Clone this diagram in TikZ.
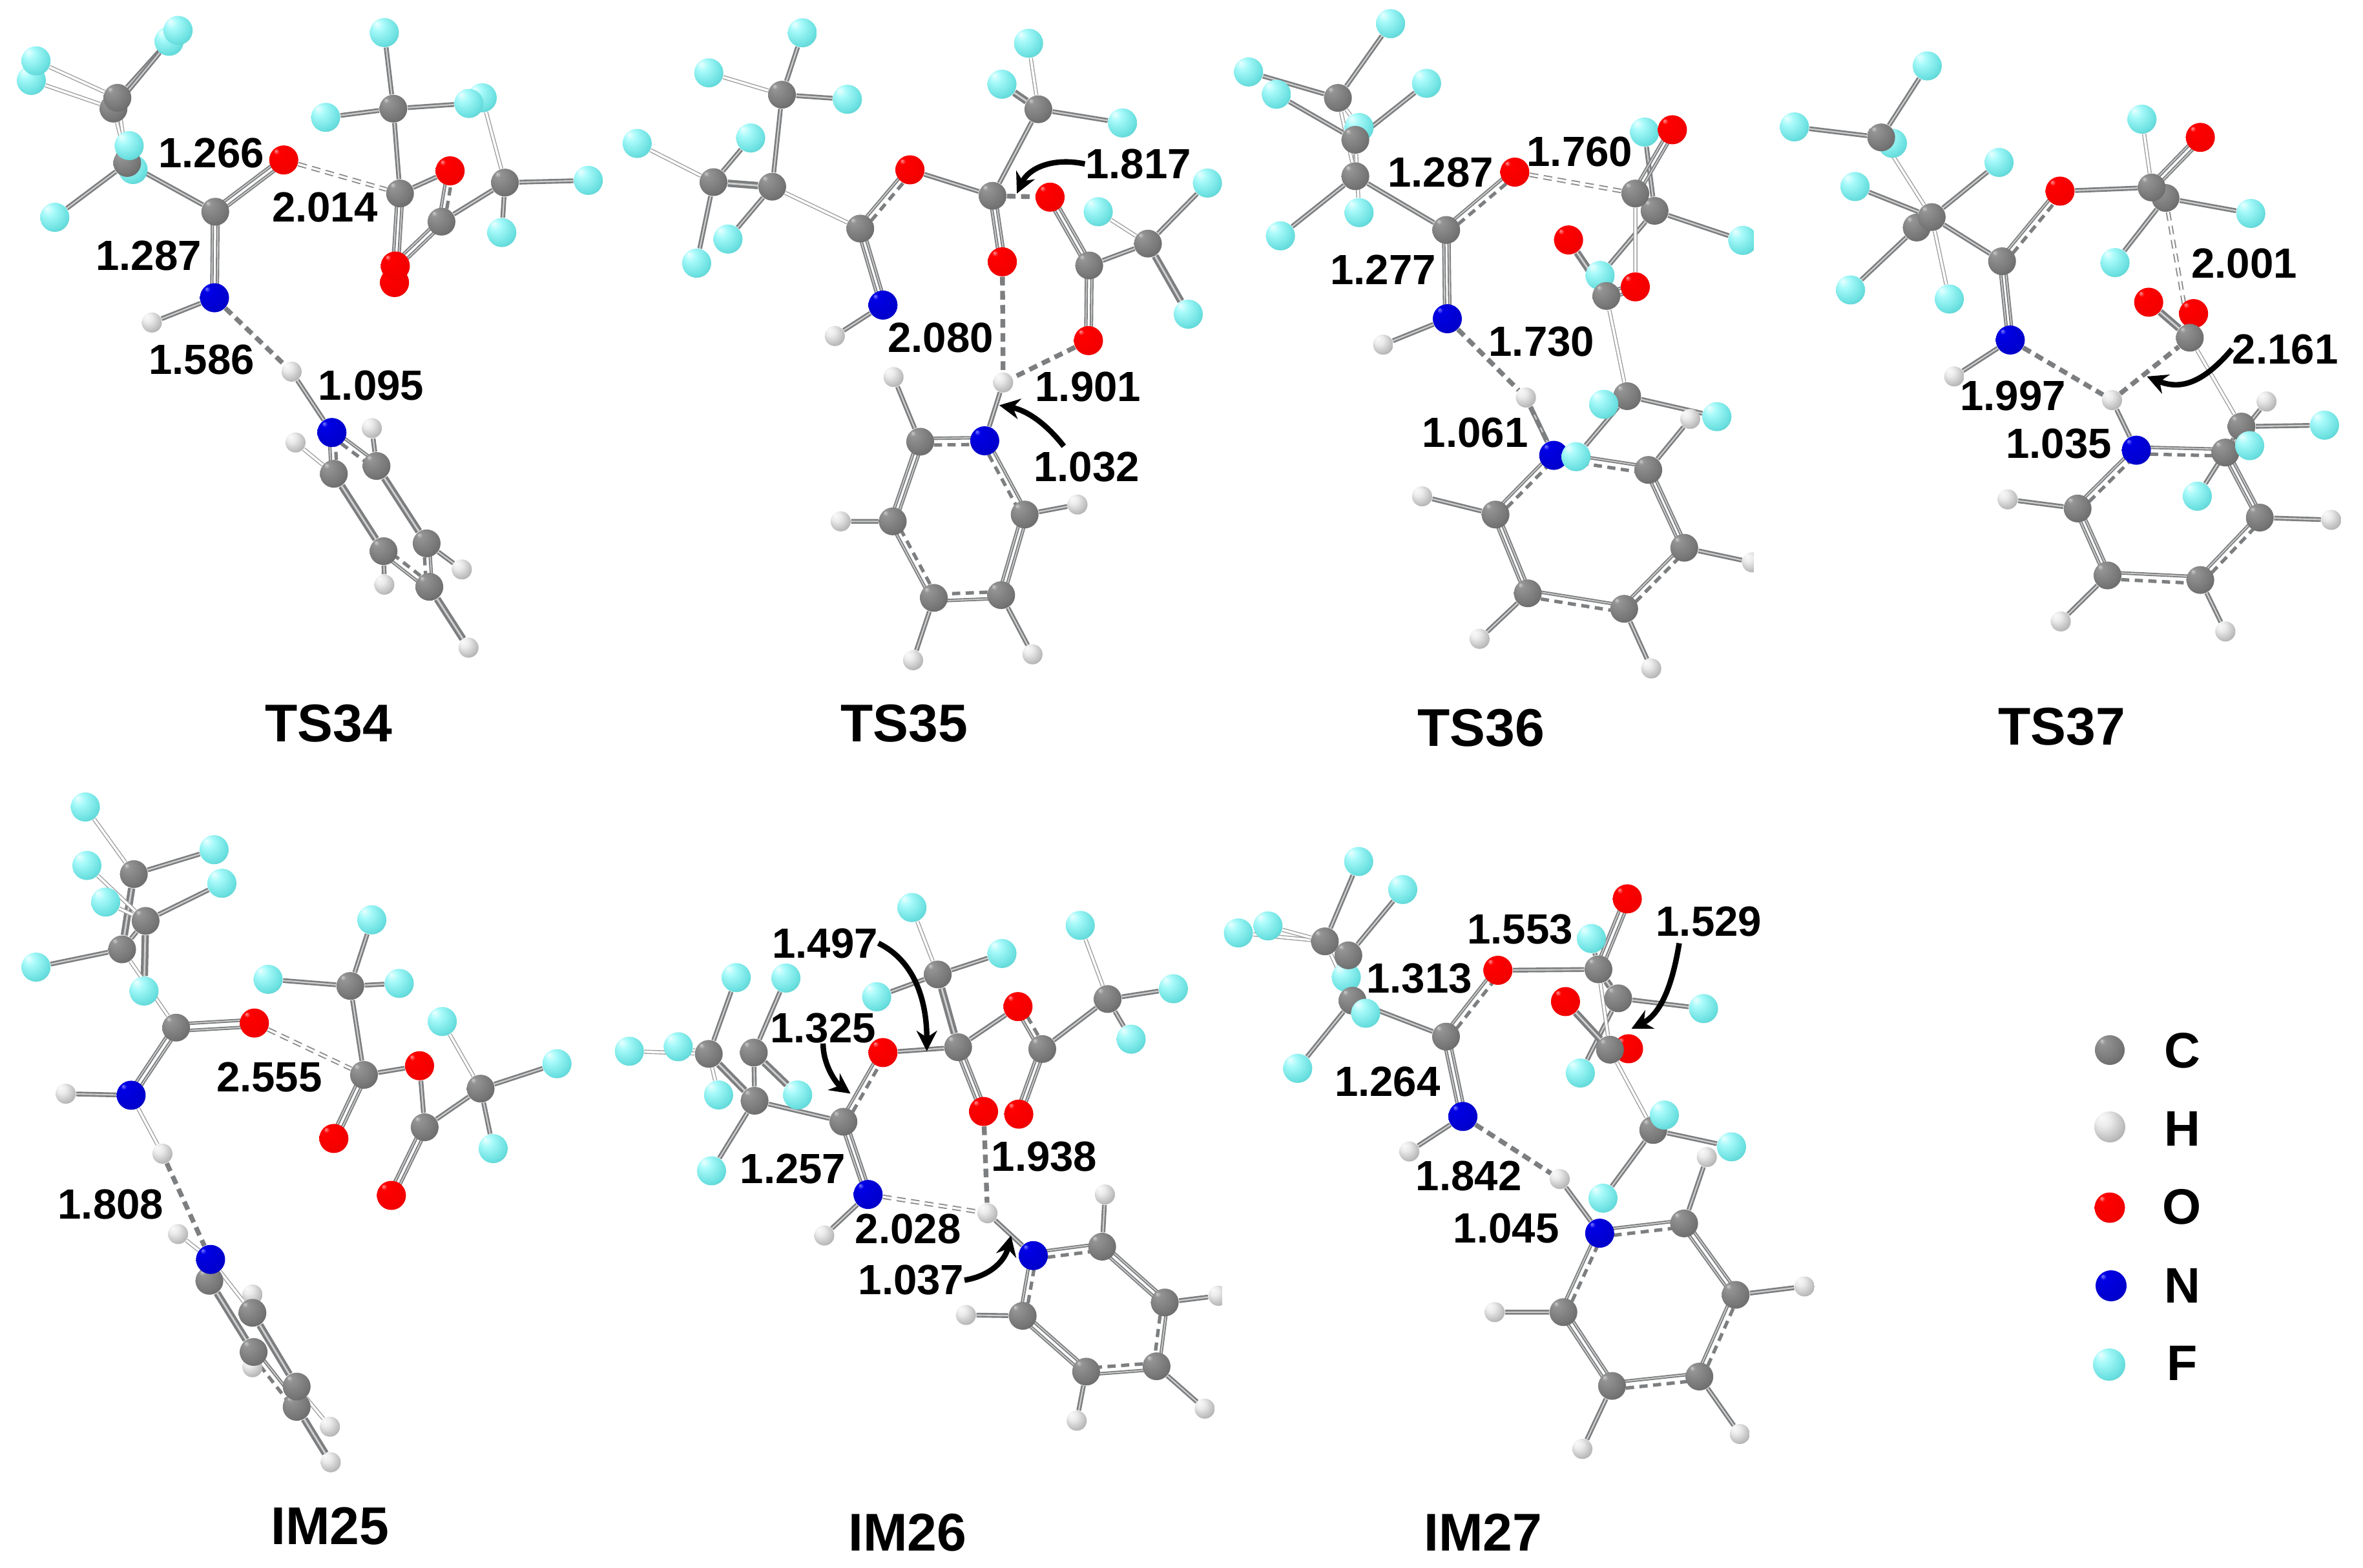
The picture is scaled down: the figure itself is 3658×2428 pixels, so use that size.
\documentclass[tikz,border=0pt]{standalone}
\usepackage{fontspec}
\setmainfont{Liberation Sans}
\usetikzlibrary{calc,arrows.meta}
\pgfdeclarelayer{bonds}
\pgfsetlayers{bonds,main}
\pgfdeclareradialshading{atomC}{\pgfqpoint{-14bp}{16bp}}{rgb(0bp)=(.80,.80,.80);rgb(5bp)=(.58,.58,.58);rgb(25bp)=(.47,.47,.47);rgb(42bp)=(.36,.36,.36);rgb(50bp)=(.25,.25,.25)}
\pgfdeclareradialshading{atomH}{\pgfqpoint{-14bp}{16bp}}{rgb(0bp)=(.98,.98,.98);rgb(12bp)=(.92,.92,.92);rgb(30bp)=(.72,.72,.72);rgb(42bp)=(.55,.55,.55);rgb(50bp)=(.38,.38,.38)}
\pgfdeclareradialshading{atomO}{\pgfqpoint{-14bp}{16bp}}{rgb(0bp)=(1,.6,.6);rgb(5bp)=(1,0,0);rgb(30bp)=(.95,0,0);rgb(42bp)=(.72,0,0);rgb(50bp)=(.45,0,0)}
\pgfdeclareradialshading{atomN}{\pgfqpoint{-14bp}{16bp}}{rgb(0bp)=(.5,.5,1);rgb(5bp)=(0,0,.9);rgb(30bp)=(0,0,.8);rgb(42bp)=(0,0,.58);rgb(50bp)=(0,0,.35)}
\pgfdeclareradialshading{atomF}{\pgfqpoint{-14bp}{16bp}}{rgb(0bp)=(.92,1,1);rgb(10bp)=(.66,.98,.98);rgb(28bp)=(.42,.88,.88);rgb(42bp)=(.33,.72,.72);rgb(50bp)=(.2,.5,.5)}
\definecolor{bondgray}{HTML}{7C7E80}
\definecolor{bondhi}{HTML}{CFCFCF}
\tikzset{
 atbase/.style={circle,inner sep=0pt,draw=none},
 atC/.style={atbase,minimum size=.43cm,shading=atomC},
 atH/.style={atbase,minimum size=.31cm,shading=atomH},
 atO/.style={atbase,minimum size=.45cm,shading=atomO},
 atN/.style={atbase,minimum size=.45cm,shading=atomN},
 atF/.style={atbase,minimum size=.45cm,shading=atomF},
 legC/.style={atC,minimum size=.46cm},
 legH/.style={atH,minimum size=.48cm},
 legO/.style={atO,minimum size=.47cm},
 legN/.style={atN,minimum size=.48cm},
 legF/.style={atF,minimum size=.5cm},
 lbl/.style={inner sep=0pt,font=\bfseries\fontsize{18.6}{20}\selectfont,text=black},
 ttl/.style={inner sep=0pt,font=\bfseries\fontsize{23.4}{26}\selectfont,text=black},
 legtxt/.style={inner sep=0pt,font=\bfseries\fontsize{22}{24}\selectfont,text=black},
 bondo/.style={draw=bondgray,line width=2.1pt},
 bondi/.style={draw=bondhi,line width=.6pt},
 thicko/.style={draw=bondgray,line width=3.2pt},
 thicki/.style={draw=bondhi,line width=.8pt},
 lighto/.style={draw=black!38,line width=1.8pt},
 lighti/.style={draw=white,line width=1pt},
 dbl/.style={draw=bondgray,line width=1.5pt},
 dbli/.style={draw=bondhi,line width=.45pt},
 dsh/.style={draw=bondgray,line width=1.5pt,dash pattern=on 3.6pt off 2.4pt},
 hdark/.style={draw=bondgray,line width=2.1pt,dash pattern=on 3.8pt off 2.4pt},
 hpale/.style={draw=black!45,line width=2pt,dash pattern=on 3.8pt off 2.4pt},
 hpalei/.style={draw=white,line width=.9pt,dash pattern=on 3.8pt off 2.4pt},
 arr/.style={draw=black,line width=2.4pt,-{Stealth[length=9pt,width=9pt]}},
}
\newcommand{\atomlist}[1]{\foreach \n/\t/\x/\y in {#1}{\edef\tmpnode{\noexpand\node[at\t] (\n) at (\x,\y) {};}\tmpnode}}
\newcommand{\sbs}[1]{\foreach \a/\b in {#1}{\draw[bondo] (\a)--(\b);\draw[bondi] (\a)--(\b);}}
\newcommand{\tbs}[1]{\foreach \a/\b in {#1}{\draw[thicko] (\a)--(\b);\draw[thicki] (\a)--(\b);}}
\newcommand{\wbs}[1]{\foreach \a/\b in {#1}{\draw[lighto] (\a)--(\b);\draw[lighti] (\a)--(\b);}}
\newcommand{\dbs}[1]{\foreach \a/\b in {#1}{%
 \draw[dbl] ($(\a)!2pt!90:(\b)$)--($(\b)!2pt!-90:(\a)$);\draw[dbli] ($(\a)!2pt!90:(\b)$)--($(\b)!2pt!-90:(\a)$);%
 \draw[dbl] ($(\a)!2pt!-90:(\b)$)--($(\b)!2pt!90:(\a)$);\draw[dbli] ($(\a)!2pt!-90:(\b)$)--($(\b)!2pt!90:(\a)$);}}
\newcommand{\abs}[1]{\foreach \a/\b in {#1}{%
 \draw[dbl] ($(\a)!2pt!90:(\b)$)--($(\b)!2pt!-90:(\a)$);\draw[dbli] ($(\a)!2pt!90:(\b)$)--($(\b)!2pt!-90:(\a)$);%
 \draw[dsh] ($(\a)!2.2pt!-90:(\b)$)--($(\b)!2.2pt!90:(\a)$);}}
\newcommand{\hds}[1]{\foreach \a/\b in {#1}{\draw[hdark] (\a)--(\b);}}
\newcommand{\hps}[1]{\foreach \a/\b in {#1}{\draw[hpale] (\a)--(\b);\draw[hpalei] (\a)--(\b);}}
\begin{document}
\begin{tikzpicture}[x=.01cm,y=-.01cm]
\begin{pgfonlayer}{bonds}
\fill[white] (0,0) rectangle (3658,2428);
\end{pgfonlayer}
\useasboundingbox (0,0) rectangle (3658,2428);
% ---------- TS34
\begin{scope}[shift={(0,0)},xscale=.6059,yscale=.6731]
\atomlist{a1/F/80/185,a2/F/92/140,a3/F/432/95,a4/F/455/70,a5/C/290/250,a6/C/300/225,a7/F/340/390,a8/C/325/375,a9/F/330/335,a10/F/140/500,a11/C/550/487,a12/O/725/368,a13/N/548/685,a14/H/388/742,a15/H/745/855,a17/H/755/1018,a18/H/950/985,a19/C/853/1090,a20/C/962/1072,a16/N/848/995,a21/H/982/1345,a22/H/1180/1310,a23/H/1197/1490,a24/C/980/1268,a25/C/1090/1250,a26/C/1097/1350,a27/F/982/75,a28/C/1005/250,a29/F/832/270,a30/F/1232/225,a31/F/1198/238,a32/O/1150/393,a33/C/1022/445,a34/C/1290/420,a35/F/1503/415,a36/F/1282/535,a37/C/1128/510,a38/O/1008/650,a39/O/1010/612}
\begin{pgfonlayer}{bonds}
\sbs{a6/a4,a5/a3,a8/a10,a8/a11,a8/a7,a13/a14,a15/a16,a24/a21,a25/a22,a28/a27,a28/a29,a28/a31,a28/a33,a33/a32,a37/a34,a34/a35,a34/a36,a20/a18}
\wbs{a6/a2,a5/a1,a6/a8,a5/a8,a19/a17,a34/a30}
\tbs{a19/a24,a20/a25,a26/a23}
\dbs{a11/a12,a11/a13,a33/a38,a37/a39}
\abs{a19/a16,a16/a20,a26/a24,a25/a26,a37/a32}
\hds{a13/a15}
\hps{a12/a33}
\end{pgfonlayer}
\node[lbl] (aL1) at (540,352) {1.266};
\node[lbl] (aL2) at (830,477) {2.014};
\node[lbl] (aL3) at (380,588) {1.287};
\node[lbl] (aL4) at (515,828) {1.586};
\node[lbl] (aL5) at (948,887) {1.095};
\end{scope}
\node[ttl] (aT) at (509,1120) {TS34};
% ---------- TS35
\begin{scope}[shift={(950,0)},xscale=.6059,yscale=.7051]
\atomlist{b1/C/430/208,b2/F/482/72,b3/F/243/160,b4/F/597/218,b5/C/405/410,b6/C/255/400,b7/F/60/315,b8/F/350/303,b9/F/292/525,b10/F/212/578,b11/C/630/502,b12/N/688/670,b13/H/565/738,b14/O/757/373,b15/C/968/430,b16/C/1085/240,b17/F/1060/95,b18/F/992/185,b19/F/1300/270,b20/O/1115/433,b21/C/1215/583,b22/C/1365/535,b23/F/1517/402,b24/F/1238/465,b25/F/1468/690,b26/O/993/575,b27/O/1213/748,b28/H/995/840,b29/H/715/828,b30/N/948/968,b31/C/783/970,b32/C/713/1145,b33/H/580/1145,b34/C/1050/1130,b35/H/1185/1108,b36/C/818/1313,b37/C/990/1307,b38/H/765/1450,b39/H/1070/1437}
\begin{pgfonlayer}{bonds}
\sbs{b1/b2,b1/b4,b1/b5,b6/b8,b6/b10,b5/b9,b14/b15,b15/b16,b16/b19,b21/b22,b22/b23,b12/b13,b28/b30,b31/b29,b32/b33,b34/b35,b36/b38,b37/b39}
\tbs{b5/b6,b16/b18,b22/b25}
\wbs{b1/b3,b6/b7,b5/b11,b16/b17,b22/b24}
\dbs{b11/b12,b15/b26,b20/b21,b21/b27,b31/b32,b34/b37}
\abs{b11/b14,b31/b30,b30/b34,b37/b36,b36/b32}
\hds{b15/b20,b26/b28,b27/b28}
\end{pgfonlayer}
\node[lbl] (bL1) at (1340,360) {1.817};
\node[lbl] (bL2) at (835,742) {2.080};
\node[lbl] (bL3) at (1212,850) {1.901};
\node[lbl] (bL4) at (1208,1025) {1.032};
\coordinate (bE1) at (1030,425);
\coordinate (bS2) at (1150,980);
\coordinate (bE2) at (985,890);
\draw[arr] (bL1.west) .. controls (1120,345) and (1060,370) .. (bE1);
\draw[arr] (bS2) .. controls (1100,925) and (1050,900) .. (bE2);
\end{scope}
\node[ttl] (bT) at (1400,1120) {TS35};
% ---------- TS36
\begin{scope}[shift={(1880,0)},xscale=.574,yscale=.7051]
\atomlist{c1/F/475/52,c2/F/92/158,c3/F/167/207,c4/F/572/183,c5/F/390/280,c6/C/333/215,c7/C/380/387,c8/C/380/307,c9/F/390/467,c10/F/178/518,c11/C/625/505,c12/O/810/378,c13/N/628/700,c14/H/455/757,c15/H/840/873,c16/N/915/1000,c18/C/758/1130,c19/H/560/1090,c20/C/845/1303,c21/H/715/1403,c22/C/1105/1337,c23/H/1178/1468,c24/C/1267/1203,c25/H/1450/1235,c26/H/1283/920,c27/C/1170/1032,c28/C/1113/870,c29/F/1050/888,c30/F/1355/915,c17/F/975/1003,c31/F/1160/290,c32/O/1235/285,c33/C/1187/463,c34/C/1135/425,c35/F/1425/528,c36/O/955/527,c37/F/1040/605,c38/O/1135/630,c39/C/1057/650}
\begin{pgfonlayer}{bonds}
\sbs{c6/c1,c6/c2,c8/c3,c8/c4,c7/c10,c7/c11,c13/c14,c15/c16,c28/c30,c28/c29,c28/c17,c33/c35,c33/c37,c33/c31,c34/c33,c18/c19,c20/c21,c22/c23,c24/c25,c27/c26}
\wbs{c6/c7,c6/c5,c8/c7,c8/c9,c34/c38,c39/c28}
\tbs{c39/c36}
\dbs{c11/c13,c34/c32,c39/c38,c18/c20,c24/c27}
\abs{c11/c12,c16/c27,c18/c16,c20/c22,c22/c24}
\hds{c13/c15,c15/c16}
\hps{c12/c34}
\end{pgfonlayer}
\fill[white] (1455,300) rectangle (1500,1300);
\node[lbl] (cL1) at (610,378) {1.287};
\node[lbl] (cL2) at (985,333) {1.760};
\node[lbl] (cL3) at (455,592) {1.277};
\node[lbl] (cL4) at (882,750) {1.730};
\node[lbl] (cL5) at (703,950) {1.061};
\end{scope}
\node[ttl] (cT) at (2293,1127) {TS36};
% ---------- TS37
\begin{scope}[shift={(2750,40)},xscale=.5791,yscale=.7051]
\atomlist{d1/F/403/88,d2/F/48/222,d3/F/310/258,d4/C/280/245,d5/F/210/353,d6/F/595/300,d7/C/375/443,d8/C/415/420,d9/F/198/580,d10/F/462/600,d11/C/603/517,d12/N/625/690,d13/H/475/770,d14/O/758/363,d15/F/977/205,d16/O/1133/245,d17/C/1040/378,d18/C/1003/355,d19/F/1268/412,d20/F/905/520,d21/O/995/607,d22/O/1115/632,d23/C/1105/685,d24/H/897/822,d25/N/962/932,d26/C/805/1060,d27/H/618/1040,d28/C/885/1207,d29/H/760/1308,d30/C/1133/1217,d31/H/1200/1330,d32/C/1292/1080,d33/H/1483/1085,d34/H/1310/825,d35/C/1200/937,d36/C/1243/880,d37/F/1465/877,d38/F/1265/922,d39/F/1125/1033}
\begin{pgfonlayer}{bonds}
\sbs{d4/d1,d4/d2,d4/d3,d8/d6,d8/d5,d7/d9,d8/d11,d12/d13,d14/d18,d18/d17,d17/d19,d17/d20,d24/d25,d36/d37,d36/d39,d26/d27,d28/d29,d30/d31,d32/d33,d35/d34,d36/d38}
\wbs{d4/d8,d8/d10,d18/d15,d23/d36}
\tbs{d23/d21,d7/d8}
\dbs{d11/d12,d18/d16,d23/d22,d26/d28,d32/d35}
\abs{d11/d14,d26/d25,d25/d35,d28/d30,d30/d32}
\hds{d12/d24,d24/d23}
\hps{d17/d23}
\end{pgfonlayer}
\node[lbl] (dL1) at (1250,522) {2.001};
\node[lbl] (dL2) at (1360,710) {2.161};
\node[lbl] (dL3) at (632,812) {1.997};
\node[lbl] (dL4) at (755,917) {1.035};
\coordinate (dE1) at (990,770);
\draw[arr] (dL2.west) .. controls (1140,785) and (1080,800) .. (dE1);
\end{scope}
\node[ttl] (dT) at (3192,1125) {TS37};
% ---------- IM25
\begin{scope}[shift={(0,1200)},xscale=.6059,yscale=.7872]
\atomlist{e1/F/218/63,e2/F/547/147,e3/F/222/178,e4/F/567/213,e5/F/270/250,e6/C/342/195,e7/F/368/425,e8/C/372/287,e9/C/312/343,e10/F/92/378,e11/C/450/497,e12/O/650/488,e13/N/335/630,e14/H/168/627,e15/H/415/745,e16/H/455/903,e17/C/535/995,e18/N/538/953,e19/H/645/1022,e20/C/645/1058,e21/H/645/1165,e22/C/648/1135,e23/C/758/1243,e24/C/758/1203,e25/H/843/1282,e26/H/845/1352,e27/F/950/285,e28/C/895/415,e29/F/685/402,e30/F/1020/410,e31/C/930/590,e32/O/1072/572,e33/O/853/715,e34/C/1085/693,e35/O/1000/827,e36/C/1228/617,e37/F/1130/485,e38/F/1423/568,e39/F/1260/735}
\begin{pgfonlayer}{bonds}
\sbs{e6/e2,e8/e4,e9/e10,e13/e14,e28/e27,e28/e29,e28/e30,e28/e31,e31/e32,e32/e34,e34/e36,e36/e38,e36/e39,e8/e9}
\tbs{e6/e9,e8/e7,e20/e24,e17/e22,e23/e26}
\wbs{e6/e1,e8/e3,e8/e5,e9/e11,e13/e15,e18/e16,e18/e20,e36/e37,e24/e25,e22/e21}
\dbs{e11/e12,e11/e13,e31/e33,e34/e35}
\abs{e22/e23,e24/e23,e18/e17}
\hds{e15/e18}
\hps{e12/e31}
\end{pgfonlayer}
\node[lbl] (eL1) at (688,595) {2.555};
\node[lbl] (eL2) at (283,845) {1.808};
\end{scope}
\node[ttl] (eT) at (511,2363) {IM25};
% ---------- IM26
\begin{scope}[shift={(950,1350)},xscale=.6059,yscale=.6910]
\atomlist{f1/F/762/80,f2/F/992/183,f3/F/672/280,f4/C/828/230,f5/F/1192/120,f6/F/1430/262,f7/F/1322/375,f8/C/1262/285,f9/O/1033/302,f10/C/880/393,f11/C/1095/397,f12/O/945/537,f13/O/1035/543,f14/O/688/405,f15/F/313/237,f16/F/440/238,f17/F/165/392,f18/F/40/402,f19/C/243/408,f20/C/358/405,f21/F/268/500,f22/F/470/500,f23/C/360/513,f24/F/250/670,f25/C/587/560,f26/N/650/723,f27/H/538/815,f28/H/955/765,f29/H/1255/723,f30/C/1248/840,f31/N/1072/860,f32/C/1045/995,f33/H/900/993,f34/C/1408/965,f35/H/1545/950,f36/C/1207/1120,f37/H/1183/1230,f38/C/1387/1108,f39/H/1510/1203}
\begin{pgfonlayer}{bonds}
\sbs{f4/f2,f4/f3,f10/f9,f11/f8,f8/f6,f14/f10,f25/f23,f26/f27,f19/f15,f20/f16,f23/f24,f28/f31,f30/f29,f32/f33,f34/f35,f36/f37,f38/f39,f23/f20,f8/f7}
\tbs{f4/f10,f23/f19,f20/f22}
\wbs{f4/f1,f8/f5,f19/f17,f19/f18,f19/f21}
\dbs{f10/f12,f11/f13,f25/f26,f30/f34,f32/f36}
\abs{f25/f14,f31/f30,f32/f31,f11/f9,f34/f38,f38/f36}
\hds{f12/f28}
\hps{f26/f28}
\end{pgfonlayer}
\fill[white] (1555,850) rectangle (1600,1050);
\node[lbl] (fL1) at (540,160) {1.497};
\node[lbl] (fL2) at (535,350) {1.325};
\node[lbl] (fL3) at (458,665) {1.257};
\node[lbl] (fL4) at (1100,638) {1.938};
\node[lbl] (fL5) at (752,800) {2.028};
\node[lbl] (fL6) at (760,915) {1.037};
\coordinate (fE1) at (800,402);
\coordinate (fE2) at (605,497);
\coordinate (fE3) at (1015,815);
\draw[arr] (fL1.east) .. controls (770,200) and (800,290) .. (fE1);
\draw[arr] (fL2.south) .. controls (535,435) and (570,475) .. (fE2);
\draw[arr] (fL6.east) .. controls (965,905) and (1000,870) .. (fE3);
\end{scope}
\node[ttl] (fT) at (1405,2373) {IM26};
% ---------- IM27
\begin{scope}[shift={(1880,1300)},xscale=.6378,yscale=.7231]
\atomlist{g1/F/350/47,g2/F/457/107,g3/F/58/200,g4/F/130/185,g5/F/320/295,g6/C/268/218,g7/C/335/345,g8/C/325/248,g9/F/367/372,g10/F/202/490,g11/C/562/422,g12/O/688/280,g13/N/603/593,g14/H/473/668,g15/H/838/727,g16/N/935/843,g17/C/1140/822,g18/C/847/1012,g19/H/680/1012,g20/C/1265/975,g21/H/1432/957,g22/C/965/1170,g23/H/893/1305,g24/C/1177/1150,g25/H/1275/1273,g26/H/1195/680,g27/O/1002/127,g28/F/915/212,g29/C/980/340,g30/C/932/278,g31/F/1187/362,g32/O/852/347,g33/O/1005/448,g34/C/960/450,g35/F/888/500,g36/C/1065/622,g37/F/1092/590,g38/F/1255/658,g39/F/943/768}
\begin{pgfonlayer}{bonds}
\sbs{g6/g1,g8/g2,g7/g10,g7/g11,g13/g14,g15/g16,g12/g30,g29/g31,g29/g35,g36/g38,g36/g39,g17/g26,g18/g19,g20/g21,g22/g23,g24/g25,g36/g37,g7/g5,g30/g28}
\wbs{g6/g3,g6/g4,g8/g7,g6/g7,g7/g9,g30/g34,g34/g36}
\tbs{g34/g32,g30/g29}
\dbs{g11/g13,g30/g27,g17/g20,g18/g22,g34/g33}
\abs{g11/g12,g16/g17,g18/g16,g22/g24,g24/g20}
\hds{g13/g15}
\end{pgfonlayer}
\node[lbl] (gL1) at (742,192) {1.553};
\node[lbl] (gL2) at (1200,175) {1.529};
\node[lbl] (gL3) at (497,298) {1.313};
\node[lbl] (gL4) at (420,518) {1.264};
\node[lbl] (gL5) at (617,720) {1.842};
\node[lbl] (gL6) at (708,833) {1.045};
\coordinate (gS1) at (1128,222);
\coordinate (gE1) at (1012,405);
\draw[arr] (gS1) .. controls (1110,320) and (1080,375) .. (gE1);
\end{scope}
\node[ttl] (gT) at (2296,2373) {IM27};
% ---------- legend
\node[legC] (lC) at (3266,1626) {};
\node[legH] (lH) at (3266,1745) {};
\node[legO] (lO) at (3266,1870) {};
\node[legN] (lN) at (3268,1991) {};
\node[legF] (lF) at (3265,2113) {};
\node[legtxt] (tC) at (3378,1627) {C};
\node[legtxt] (tH) at (3378,1748) {H};
\node[legtxt] (tO) at (3378,1869) {O};
\node[legtxt] (tN) at (3378,1991) {N};
\node[legtxt] (tF) at (3378,2111) {F};
\end{tikzpicture}
\end{document}
